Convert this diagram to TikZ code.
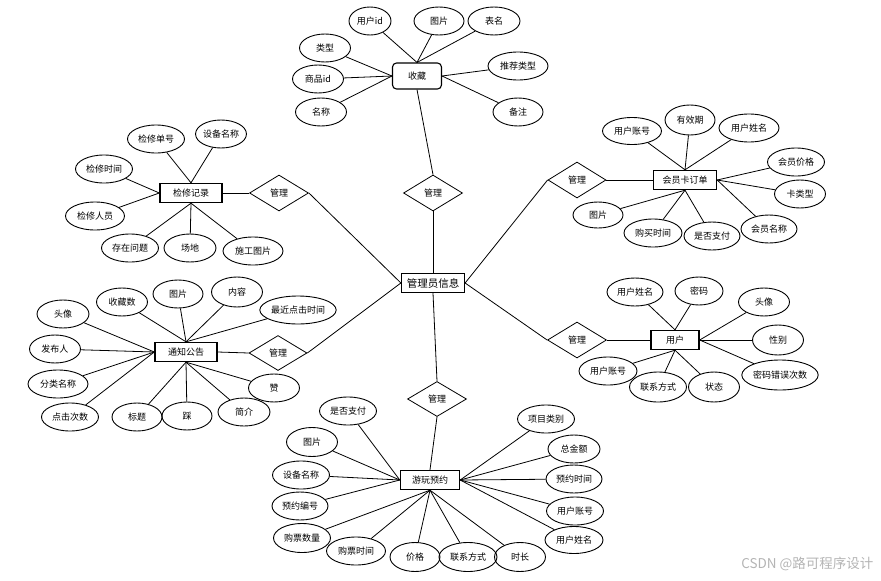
\documentclass[tikz,border=0pt]{standalone}
\usepackage{fontspec}
\setmainfont{Noto Sans CJK SC}
\usetikzlibrary{shapes.geometric}
\usepackage{xcolor}
\definecolor{ink}{HTML}{000000}
\definecolor{mark}{HTML}{B4B4B4}
\tikzset{
  every node/.style={font=\fontsize{9}{11}\selectfont,text=ink},
  attr/.style={draw=ink,line width=0.9pt,ellipse,inner sep=0pt,minimum width=52pt,minimum height=28pt},
  entity/.style={draw=ink,line width=1.4pt,rectangle,inner sep=2pt,minimum height=19pt},
  rel/.style={draw=ink,line width=0.8pt,diamond,aspect=1.65,inner sep=0pt,minimum width=59pt,minimum height=36pt},
  link/.style={draw=ink,line width=0.8pt},
}

\begin{document}
\begin{tikzpicture}[x=1pt,y=-1pt]
\useasboundingbox (0,0) rectangle (881,581);

% centre
\node[entity,minimum width=63pt,line width=1.2pt,inner sep=1pt,font=\fontsize{10.5}{12}\selectfont] (admin) at (433,283) {管理员信息};

% collect
\node[entity,rounded corners=4pt,minimum width=49pt,minimum height=26pt,line width=1.1pt] (fav) at (417,76) {收藏};
\node[rel] (mfav) at (433,193) {管理};
\node[attr,minimum width=42pt] (fav1) at (370,21) {用户id};
\node[attr,minimum width=50pt] (fav2) at (439,21) {图片};
\node[attr] (fav3) at (494,21) {表名};
\node[attr,minimum width=51pt] (fav4) at (325,48) {类型};
\node[attr,minimum width=51pt] (fav5) at (318,79) {商品id};
\node[attr,minimum width=51pt] (fav6) at (321,112) {名称};
\node[attr,minimum width=60pt] (fav7) at (518,66) {推荐类型};
\node[attr,minimum width=50pt] (fav8) at (518,112) {备注};

% card order
\node[entity,minimum width=63pt] (card) at (685,180) {会员卡订单};
\node[rel,minimum width=58pt] (mcard) at (577,180) {管理};
\node[attr,minimum width=59pt,minimum height=27pt] (card1) at (632,131) {用户账号};
\node[attr,minimum width=50pt,minimum height=30pt] (card2) at (690,120) {有效期};
\node[attr,minimum width=60pt] (card3) at (749,128) {用户姓名};
\node[attr,minimum width=57pt] (card4) at (796,162) {会员价格};
\node[attr,minimum width=51pt] (card5) at (800,194) {卡类型};
\node[attr,minimum width=56pt] (card6) at (769,229) {会员名称};
\node[attr,minimum width=56pt] (card7) at (712,236) {是否支付};
\node[attr,minimum width=58pt] (card8) at (653,233) {购买时间};
\node[attr,minimum width=50pt,minimum height=26pt] (card9) at (598,215) {图片};

% repair
\node[entity,minimum width=62pt] (repair) at (191,193) {检修记录};
\node[rel] (mrep) at (279,193) {管理};
\node[attr,minimum width=57pt] (rep1) at (156,139) {检修单号};
\node[attr,minimum width=49pt] (rep2) at (221,134) {设备名称};
\node[attr,minimum width=57pt] (rep3) at (104,169) {检修时间};
\node[attr,minimum width=59pt] (rep4) at (95,216) {检修人员};
\node[attr,minimum width=57pt] (rep5) at (130,248) {存在问题};
\node[attr] (rep6) at (190,248) {场地};
\node[attr,minimum width=60pt] (rep7) at (253,251) {施工图片};

% notice
\node[entity,minimum width=62pt] (notice) at (186,352) {通知公告};
\node[rel,minimum width=58pt,minimum height=35pt] (mnot) at (278,353) {管理};
\node[attr] (not1) at (63,314) {头像};
\node[attr,minimum width=51pt] (not2) at (122,302) {收藏数};
\node[attr,minimum width=50pt] (not3) at (178,294) {图片};
\node[attr,minimum width=51pt,minimum height=30pt] (not4) at (237,292) {内容};
\node[attr,minimum width=76pt] (not5) at (298,310) {最近点击时间};
\node[attr,minimum width=51pt] (not6) at (55,349) {发布人};
\node[attr,minimum width=60pt] (not7) at (58,384) {分类名称};
\node[attr,minimum width=57pt] (not8) at (70,417) {点击次数};
\node[attr,minimum width=50pt] (not9) at (137,417) {标题};
\node[attr,minimum width=50pt] (not10) at (187,416) {踩};
\node[attr] (not11) at (244,412) {简介};
\node[attr,minimum width=51pt] (not12) at (274,388) {赞};

% user
\node[entity,minimum width=48pt] (user) at (675,340) {用户};
\node[rel] (muser) at (577,340) {管理};
\node[attr,minimum width=56pt] (usr1) at (635,292) {用户姓名};
\node[attr,minimum width=48pt] (usr2) at (699,291) {密码};
\node[attr,minimum width=51pt] (usr3) at (764,302) {头像};
\node[attr,minimum width=51pt,minimum height=30pt] (usr4) at (778,340) {性别};
\node[attr,minimum width=75pt,minimum height=30pt] (usr5) at (780,375) {密码错误次数};
\node[attr,minimum width=51pt,minimum height=30pt] (usr6) at (714,387) {状态};
\node[attr,minimum width=57pt,minimum height=30pt] (usr7) at (658,387) {联系方式};
\node[attr,minimum width=58pt] (usr8) at (608,371) {用户账号};

% booking
\node[entity,minimum width=59pt] (booking) at (430,480) {游玩预约};
\node[rel,minimum height=35pt] (mbook) at (437,399) {管理};
\node[attr,minimum width=57pt] (bk1) at (348,411) {是否支付};
\node[attr,minimum width=51pt,minimum height=29pt] (bk2) at (312,442) {图片};
\node[attr,minimum width=57pt] (bk3) at (301,475) {设备名称};
\node[attr,minimum width=56pt] (bk4) at (300,506) {预约编号};
\node[attr,minimum width=57pt,minimum height=29pt] (bk5) at (302,538) {购票数量};
\node[attr,minimum width=59pt] (bk6) at (356,551) {购票时间};
\node[attr,minimum width=50pt,minimum height=29pt] (bk7) at (415,557) {价格};
\node[attr,minimum width=58pt,minimum height=29pt] (bk8) at (468,557) {联系方式};
\node[attr,minimum width=51pt,minimum height=29pt] (bk9) at (520,557) {时长};
\node[attr,minimum width=57pt] (bk10) at (546,419) {项目类别};
\node[attr] (bk11) at (574,449) {总金额};
\node[attr,minimum width=56pt] (bk12) at (574,479) {预约时间};
\node[attr,minimum width=57pt] (bk13) at (575,511) {用户账号};
\node[attr,minimum width=58pt,minimum height=27pt] (bk14) at (574,540) {用户姓名};

% attributes to entities
\foreach \a/\b in {fav1/fav.north,fav2/fav.north,fav3/fav.north,fav4/fav.west,fav5/fav.west,fav6/fav.west,fav7/fav.east,fav8/fav.east,
  card1/card.north,card2/card.north,card3/card.north,card4/card.east,card5/card.east,card6/card.east,card7/card.south,card8/card.south,card9/card.south,
  rep1/repair.north,rep2/repair.north,rep3/repair.west,rep4/repair.west,rep5/repair.south,rep6/repair.south,rep7/repair.south,
  not1/notice.west,not2/notice.north,not3/notice.north,not4/notice.north,not5/notice.north,not6/notice.west,not7/notice.west,not8/notice.west,
  not9/notice.south,not10/notice.south,not11/notice.south,not12/notice.south,
  usr1/user.north,usr2/user.north,usr3/user.east,usr4/user.east,usr5/user.east,usr6/user.south,usr7/user.south,usr8/user.south,
  bk1/booking.west,bk2/booking.west,bk3/booking.west,bk4/booking.west,bk5/booking.south,bk6/booking.south,bk7/booking.south,bk8/booking.south,bk9/booking.south,
  bk10/booking.east,bk11/booking.east,bk12/booking.east,bk13/booking.east,bk14/booking.east}{\draw[link] (\a) -- (\b);}

% relationships
\draw[link] (fav.south) -- (mfav.north);
\draw[link] (mfav.south) -- (admin.north);
\draw[link] (card.west) -- (mcard.east);
\draw[link] (mcard.west) -- (admin.east);
\draw[link] (repair.east) -- (mrep.west);
\draw[link] (mrep.east) -- (admin.west);
\draw[link] (notice.east) -- (mnot.west);
\draw[link] (mnot.east) -- (admin.west);
\draw[link] (user.west) -- (muser.east);
\draw[link] (muser.west) -- (admin.east);
\draw[link] (admin.south) -- (mbook.north);
\draw[link] (mbook.south) -- (booking.north);

\node[text=mark,font=\fontsize{13.5}{15}\selectfont,anchor=east] (wm) at (877,564) {CSDN @路可程序设计};

\end{tikzpicture}
\end{document}
